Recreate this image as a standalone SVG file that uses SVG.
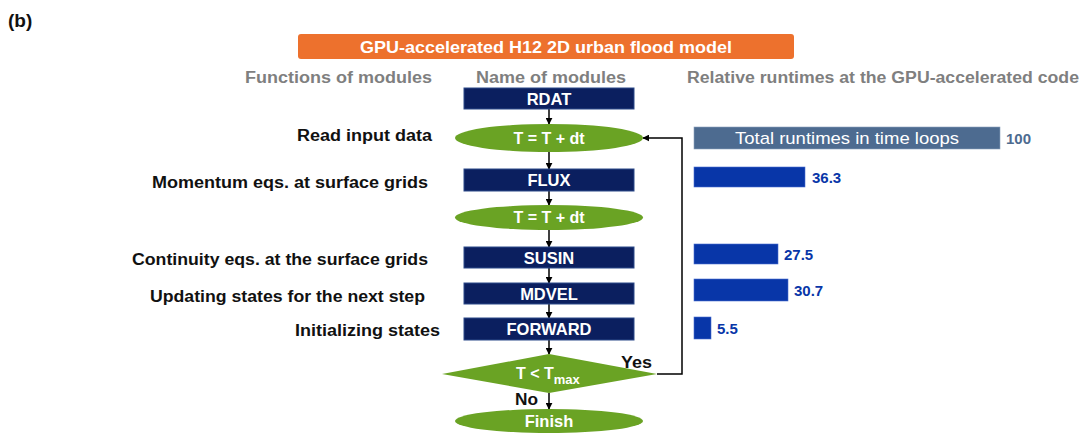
<svg xmlns="http://www.w3.org/2000/svg" width="1089" height="433" viewBox="0 0 1089 433">
<defs>
<marker id="ah" viewBox="0 0 10 10" refX="9" refY="5" markerWidth="7" markerHeight="7" markerUnits="userSpaceOnUse" orient="auto">
<path d="M0,0 L10,5 L0,10 z" fill="#000"/>
</marker>
<style>
.mod{fill:#0b1f5f;stroke:#2c4a8a;stroke-width:1}
.ell{fill:#6aa324}
.wt{font-family:"Liberation Sans",Arial,sans-serif;font-weight:bold;font-size:16.5px;fill:#fff;text-anchor:middle}
.lbl{font-family:"Liberation Sans",Arial,sans-serif;font-weight:bold;font-size:16px;fill:#111}
.hdr{font-family:"Liberation Sans",Arial,sans-serif;font-weight:bold;font-size:16px;fill:#7f7f7f}
.bar{fill:#0836a8;stroke:#4a6fd0;stroke-width:0.6}
.val{font-family:"Liberation Sans",Arial,sans-serif;font-weight:bold;font-size:15px;fill:#0836a8}
.con{stroke:#000;stroke-width:1.5;fill:none}
</style>
</defs>
<rect width="1089" height="433" fill="#fff"/>
<text x="8" y="27" font-family="Liberation Sans,Arial,sans-serif" font-weight="bold" font-size="19" fill="#111">(b)</text>
<g id="title">
<rect x="298" y="34" width="496" height="25" rx="3" fill="#ed712d"/>
<text x="546" y="52.5" class="wt" style="font-size:17px" textLength="372" lengthAdjust="spacingAndGlyphs">GPU-accelerated H12 2D urban flood model</text>
</g>
<g id="headers">
<text x="245" y="83" class="hdr" textLength="187" lengthAdjust="spacingAndGlyphs">Functions of modules</text>
<text x="476" y="83" class="hdr" textLength="150" lengthAdjust="spacingAndGlyphs">Name of modules</text>
<text x="687" y="83" class="hdr" textLength="392" lengthAdjust="spacingAndGlyphs">Relative runtimes at the GPU-accelerated code</text>
</g>
<g id="labels">
<text x="297" y="141" class="lbl" textLength="135" lengthAdjust="spacingAndGlyphs">Read input data</text>
<text x="152" y="188" class="lbl" textLength="276" lengthAdjust="spacingAndGlyphs">Momentum eqs. at surface grids</text>
<text x="132" y="265" class="lbl" textLength="296" lengthAdjust="spacingAndGlyphs">Continuity eqs. at the surface grids</text>
<text x="150" y="302" class="lbl" textLength="275" lengthAdjust="spacingAndGlyphs">Updating states for the next step</text>
<text x="295" y="336" class="lbl" textLength="145" lengthAdjust="spacingAndGlyphs">Initializing states</text>
</g>
<g id="connectors">
<line x1="549" y1="109" x2="549" y2="124" class="con" marker-end="url(#ah)"/>
<line x1="549" y1="152" x2="549" y2="169" class="con" marker-end="url(#ah)"/>
<line x1="549" y1="191" x2="549" y2="205" class="con" marker-end="url(#ah)"/>
<line x1="549" y1="230" x2="549" y2="247" class="con" marker-end="url(#ah)"/>
<line x1="549" y1="268" x2="549" y2="283" class="con" marker-end="url(#ah)"/>
<line x1="549" y1="304" x2="549" y2="318" class="con" marker-end="url(#ah)"/>
<line x1="549" y1="340" x2="549" y2="354" class="con" marker-end="url(#ah)"/>
<line x1="549" y1="393" x2="549" y2="409" class="con" marker-end="url(#ah)"/>
<path d="M657,374 H682 V138 H643" class="con" marker-end="url(#ah)"/>
<text x="621" y="368" class="lbl" textLength="31" lengthAdjust="spacingAndGlyphs">Yes</text>
<text x="515" y="405" class="lbl" textLength="23" lengthAdjust="spacingAndGlyphs">No</text>
</g>
<g id="rdat"><rect x="464" y="88" width="170" height="21" class="mod"/><text x="549" y="104.5" class="wt">RDAT</text></g>
<g id="time1"><ellipse cx="549" cy="138" rx="94" ry="14" class="ell"/><text x="549" y="143.5" class="wt" style="font-size:16px">T = T + dt</text></g>
<g id="flux"><rect x="464" y="169" width="170" height="22" class="mod"/><text x="549" y="186" class="wt">FLUX</text></g>
<g id="time2"><ellipse cx="549" cy="217.5" rx="94" ry="12.5" class="ell"/><text x="549" y="223" class="wt" style="font-size:16px">T = T + dt</text></g>
<g id="susin"><rect x="464" y="247" width="170" height="21" class="mod"/><text x="549" y="263.5" class="wt">SUSIN</text></g>
<g id="mdvel"><rect x="464" y="283" width="170" height="21" class="mod"/><text x="549" y="299.5" class="wt">MDVEL</text></g>
<g id="forward"><rect x="464" y="318" width="170" height="22" class="mod"/><text x="549" y="335" class="wt">FORWARD</text></g>
<g id="decision"><polygon points="549,354 657,374 549,393 442,374" class="ell"/><text x="516" y="379" class="wt" style="text-anchor:start;font-size:16px">T &lt; T<tspan style="font-size:13px" dy="5">max</tspan></text></g>
<g id="finish"><ellipse cx="549" cy="421" rx="94" ry="12" class="ell"/><text x="549" y="427" class="wt">Finish</text></g>
<g id="bars">
<rect x="694" y="127" width="306" height="22" fill="#4d6b90" stroke="#8aa0bc" stroke-width="0.6"/>
<text x="847" y="144" font-family="Liberation Sans,Arial,sans-serif" font-size="17" fill="#fff" text-anchor="middle" textLength="224" lengthAdjust="spacingAndGlyphs">Total runtimes in time loops</text>
<text x="1006" y="144" class="val" style="fill:#4d6b90">100</text>
<rect x="694" y="167" width="111" height="20" class="bar"/><text x="812" y="182.5" class="val">36.3</text>
<rect x="694" y="244" width="84" height="20" class="bar"/><text x="784" y="259.5" class="val">27.5</text>
<rect x="694" y="279" width="94" height="22" class="bar"/><text x="794" y="295.5" class="val">30.7</text>
<rect x="694" y="317" width="17" height="22" class="bar"/><text x="717" y="333.5" class="val">5.5</text>
</g>
</svg>
